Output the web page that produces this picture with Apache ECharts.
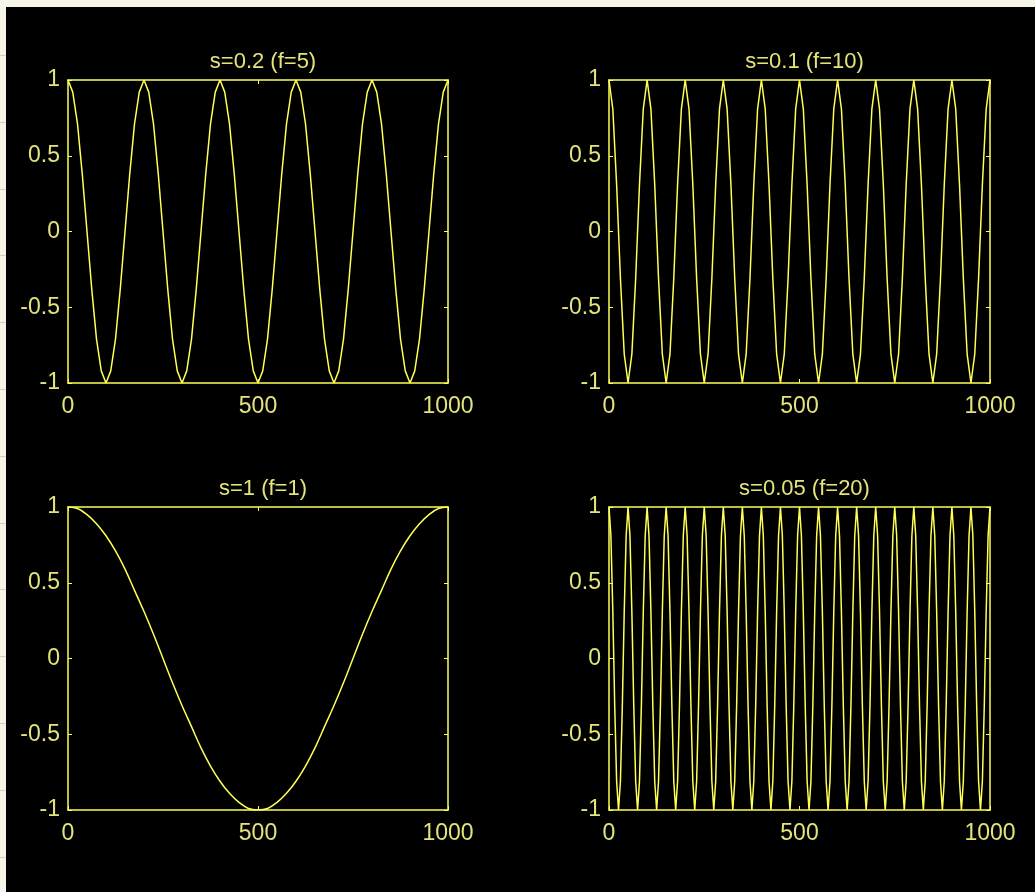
<!DOCTYPE html>
<html>
<head>
<meta charset="utf-8">
<script src="https://cdn.jsdelivr.net/npm/echarts@6/dist/echarts.min.js"></script>
<style>
  html, body { margin: 0; padding: 0; background: #f7f5e8; }
  #main { width: 1035px; height: 892px; }
</style>
</head>
<body>
<div id="main"></div>
<script>
// panel titles, in the order top-left, top-right, bottom-left, bottom-right
var titles = ['s=0.2 (f=5)', 's=0.1 (f=10)', 's=1 (f=1)', 's=0.05 (f=20)'];

// spacing of the samples along x for each panel
var steps = [12.5, 10, 25, 5];

// cosine samples
var wave5 = [
  1, 0.92, 0.71, 0.38, 0, -0.38, -0.71, -0.92, -1, -0.92, -0.71, -0.38, 0, 0.38, 0.71, 0.92,
  1, 0.92, 0.71, 0.38, 0, -0.38, -0.71, -0.92, -1, -0.92, -0.71, -0.38, 0, 0.38, 0.71, 0.92,
  1, 0.92, 0.71, 0.38, 0, -0.38, -0.71, -0.92, -1, -0.92, -0.71, -0.38, 0, 0.38, 0.71, 0.92,
  1, 0.92, 0.71, 0.38, 0, -0.38, -0.71, -0.92, -1, -0.92, -0.71, -0.38, 0, 0.38, 0.71, 0.92,
  1, 0.92, 0.71, 0.38, 0, -0.38, -0.71, -0.92, -1, -0.92, -0.71, -0.38, 0, 0.38, 0.71, 0.92,
  1
];
var wave10 = [
  1, 0.81, 0.31, -0.31, -0.81, -1, -0.81, -0.31, 0.31, 0.81,
  1, 0.81, 0.31, -0.31, -0.81, -1, -0.81, -0.31, 0.31, 0.81,
  1, 0.81, 0.31, -0.31, -0.81, -1, -0.81, -0.31, 0.31, 0.81,
  1, 0.81, 0.31, -0.31, -0.81, -1, -0.81, -0.31, 0.31, 0.81,
  1, 0.81, 0.31, -0.31, -0.81, -1, -0.81, -0.31, 0.31, 0.81,
  1, 0.81, 0.31, -0.31, -0.81, -1, -0.81, -0.31, 0.31, 0.81,
  1, 0.81, 0.31, -0.31, -0.81, -1, -0.81, -0.31, 0.31, 0.81,
  1, 0.81, 0.31, -0.31, -0.81, -1, -0.81, -0.31, 0.31, 0.81,
  1, 0.81, 0.31, -0.31, -0.81, -1, -0.81, -0.31, 0.31, 0.81,
  1, 0.81, 0.31, -0.31, -0.81, -1, -0.81, -0.31, 0.31, 0.81,
  1
];
var wave1 = [
  1, 0.99, 0.95, 0.89, 0.81, 0.71, 0.59, 0.45, 0.31, 0.16,
  0, -0.16, -0.31, -0.45, -0.59, -0.71, -0.81, -0.89, -0.95, -0.99,
  -1, -0.99, -0.95, -0.89, -0.81, -0.71, -0.59, -0.45, -0.31, -0.16,
  0, 0.16, 0.31, 0.45, 0.59, 0.71, 0.81, 0.89, 0.95, 0.99,
  1
];
var wave20 = [
  1, 0.81, 0.31, -0.31, -0.81, -1, -0.81, -0.31, 0.31, 0.81,
  1, 0.81, 0.31, -0.31, -0.81, -1, -0.81, -0.31, 0.31, 0.81,
  1, 0.81, 0.31, -0.31, -0.81, -1, -0.81, -0.31, 0.31, 0.81,
  1, 0.81, 0.31, -0.31, -0.81, -1, -0.81, -0.31, 0.31, 0.81,
  1, 0.81, 0.31, -0.31, -0.81, -1, -0.81, -0.31, 0.31, 0.81,
  1, 0.81, 0.31, -0.31, -0.81, -1, -0.81, -0.31, 0.31, 0.81,
  1, 0.81, 0.31, -0.31, -0.81, -1, -0.81, -0.31, 0.31, 0.81,
  1, 0.81, 0.31, -0.31, -0.81, -1, -0.81, -0.31, 0.31, 0.81,
  1, 0.81, 0.31, -0.31, -0.81, -1, -0.81, -0.31, 0.31, 0.81,
  1, 0.81, 0.31, -0.31, -0.81, -1, -0.81, -0.31, 0.31, 0.81,
  1, 0.81, 0.31, -0.31, -0.81, -1, -0.81, -0.31, 0.31, 0.81,
  1, 0.81, 0.31, -0.31, -0.81, -1, -0.81, -0.31, 0.31, 0.81,
  1, 0.81, 0.31, -0.31, -0.81, -1, -0.81, -0.31, 0.31, 0.81,
  1, 0.81, 0.31, -0.31, -0.81, -1, -0.81, -0.31, 0.31, 0.81,
  1, 0.81, 0.31, -0.31, -0.81, -1, -0.81, -0.31, 0.31, 0.81,
  1, 0.81, 0.31, -0.31, -0.81, -1, -0.81, -0.31, 0.31, 0.81,
  1, 0.81, 0.31, -0.31, -0.81, -1, -0.81, -0.31, 0.31, 0.81,
  1, 0.81, 0.31, -0.31, -0.81, -1, -0.81, -0.31, 0.31, 0.81,
  1, 0.81, 0.31, -0.31, -0.81, -1, -0.81, -0.31, 0.31, 0.81,
  1, 0.81, 0.31, -0.31, -0.81, -1, -0.81, -0.31, 0.31, 0.81,
  1
];
var waves = [wave5, wave10, wave1, wave20];

var LINE = '#ffff55';
var TEXT = '#e4e47a';
var FONT = 'Liberation Sans';

// panel boxes (px)
var boxes = [
  { left: 68, top: 80, width: 380, height: 303 },
  { left: 609, top: 80, width: 381, height: 303 },
  { left: 68, top: 507, width: 380, height: 303 },
  { left: 609, top: 507, width: 381, height: 303 }
];

var grid = [], xAxis = [], yAxis = [], series = [], title = [];

boxes.forEach(function (b, i) {
  grid.push({ left: b.left, top: b.top, width: b.width, height: b.height, show: false });

  title.push({
    text: titles[i],
    left: b.left + b.width / 2,
    top: b.top - 34,
    textAlign: 'center',
    textStyle: { color: TEXT, fontSize: 22, fontWeight: 'normal', fontFamily: FONT }
  });

  var axLine = { show: true, onZero: false, lineStyle: { color: LINE, width: 1.5 } };
  var tick = { show: true, inside: true, length: 4, lineStyle: { color: LINE } };

  // bottom / left axes with labels
  xAxis.push({
    type: 'value', gridIndex: i, min: 0, max: 1000, interval: 500, position: 'bottom',
    axisLine: axLine, axisTick: tick, splitLine: { show: false },
    axisLabel: { color: TEXT, fontSize: 23, fontFamily: FONT, margin: 12,
      formatter: function (v) { return String(v); } }
  });
  yAxis.push({
    type: 'value', gridIndex: i, min: -1, max: 1, interval: 0.5, position: 'left',
    axisLine: axLine, axisTick: tick, splitLine: { show: false },
    axisLabel: { color: TEXT, fontSize: 23, fontFamily: FONT, margin: 8 }
  });
  // top / right axes close the box
  xAxis.push({
    type: 'value', gridIndex: i, min: 0, max: 1000, interval: 500, position: 'top',
    axisLine: axLine, axisTick: tick, splitLine: { show: false }, axisLabel: { show: false }
  });
  yAxis.push({
    type: 'value', gridIndex: i, min: -1, max: 1, interval: 0.5, position: 'right',
    axisLine: axLine, axisTick: tick, splitLine: { show: false }, axisLabel: { show: false }
  });

  series.push({
    type: 'line',
    xAxisIndex: i * 2,
    yAxisIndex: i * 2,
    data: waves[i].map(function (v, k) { return [k * steps[i], v]; }),
    showSymbol: false,
    smooth: i === 2 ? 0.4 : false,
    lineStyle: { color: LINE, width: 1.5 }
  });
});

// window frame: cream strip on top and left with faint rule lines
var graphic = [
  { type: 'rect', left: 0, top: 0, shape: { width: 1035, height: 7 }, style: { fill: '#f7f5e8' } },
  { type: 'rect', left: 0, top: 0, shape: { width: 6, height: 892 }, style: { fill: '#f7f5e8' } }
];
for (var y = 55; y < 892; y += 66.8) {
  graphic.push({ type: 'line', shape: { x1: 0, y1: Math.round(y) + 0.5, x2: 6, y2: Math.round(y) + 0.5 },
    style: { stroke: '#cfcfc8', lineWidth: 1 } });
}

var chart = echarts.init(document.getElementById('main'));
chart.setOption({
  backgroundColor: '#000000',
  animation: false,
  title: title,
  grid: grid,
  xAxis: xAxis,
  yAxis: yAxis,
  series: series,
  graphic: graphic
});
</script>
</body>
</html>
